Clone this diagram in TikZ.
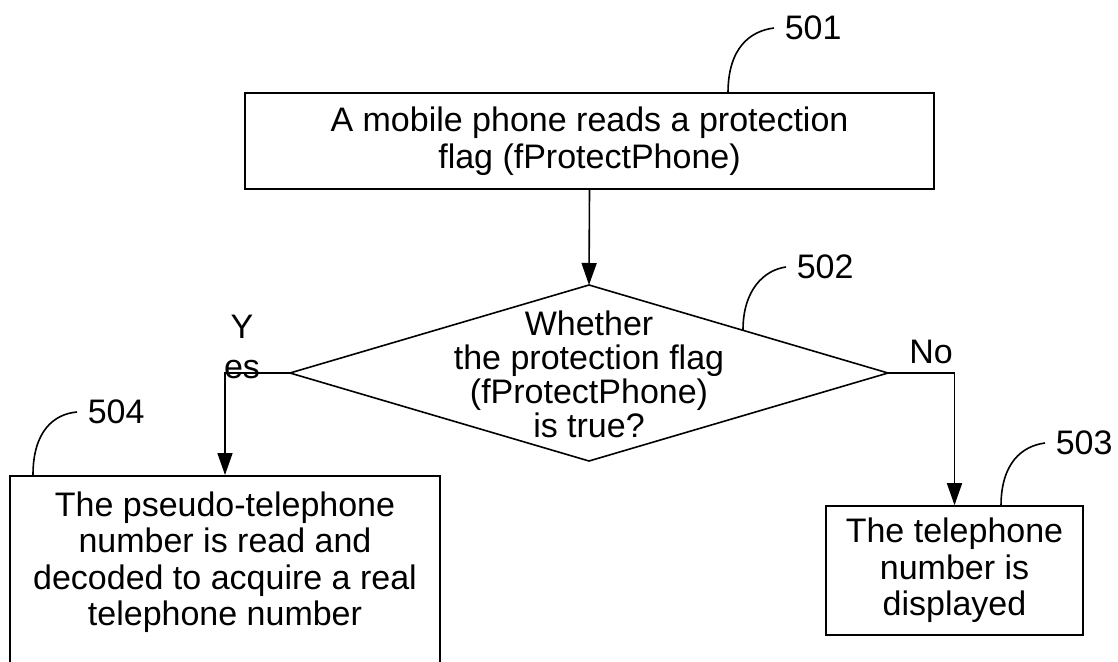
\documentclass[tikz,border=0pt]{standalone}
\usepackage{fontspec}
\setmainfont{Liberation Sans}
\usetikzlibrary{arrows.meta}
\begin{document}
\begin{tikzpicture}[x=1pt,y=-1pt, line width=1.6pt,
  txt/.style={font=\fontsize{34}{36.5}\selectfont, align=center, inner sep=0pt},
  dtxt/.style={font=\fontsize{34}{34}\selectfont, align=center, inner sep=0pt},
  box/.style={draw, line width=1.6pt, inner sep=0pt},
  lbl/.style={font=\fontsize{34}{36}\selectfont, inner sep=0pt},
  num/.style={lbl, inner xsep=10pt, anchor=west},
  arr/.style={-{Triangle[length=22pt,width=15pt]}},
  lead/.style={line width=1.6pt}]
\useasboundingbox (0,0) rectangle (1118,661);
\clip (0,0) rectangle (1118,661);

% process box 501
\node[box, txt, minimum width=689pt, minimum height=96pt] (b501) at (589.5,141)
  {A mobile phone reads a protection\\flag (fProtectPhone)};

% decision 502
\coordinate (dT) at (589,285);
\coordinate (dR) at (888,373);
\coordinate (dB) at (589,461);
\coordinate (dL) at (290,373);
\draw (dT) -- (dR) -- (dB) -- (dL) -- cycle;
\node[dtxt] (dq) at (589,374)
  {Whether\\the protection flag\\(fProtectPhone)\\is true?};

% box 504 (runs past the bottom edge)
\node[box, minimum width=430pt, minimum height=260pt, anchor=north] (b504) at (225,475) {};
\node[txt] (t504) at (225,562)
  {The pseudo-telephone\\number is read and\\decoded to acquire a real\\telephone number};

% box 503
\node[box, txt, minimum width=257pt, minimum height=129pt] (b503) at (954.5,570.5)
  {The telephone\\number is\\displayed};

% branch labels
\node[lbl] (y) at (242,327) {Y};
\node[lbl] (es) at (242,370) {es};
\node[lbl] (no) at (931,352) {No};

% connectors
\draw[arr] (b501.south) -- (dT);
\draw[arr] (dL) -| (b504.north);
\draw[arr] (dR) -| (b503.north);

% reference numerals
\node[num] (l501) at (774,28) {501};
\node[num] (l502) at (786,267) {502};
\node[num] (l503) at (1045,443) {503};
\node[num] (l504) at (77,412) {504};
\coordinate (c501) at (728,93);
\coordinate (c502) at (743,330);
\coordinate (c503) at (1001,506);
\coordinate (c504) at (33,475);
\draw[lead] (c501) .. controls (728,48) and (750,31) .. (l501.west);
\draw[lead] (c502) .. controls (743,290) and (764,270) .. (l502.west);
\draw[lead] (c503) .. controls (1001,463) and (1022,446) .. (l503.west);
\draw[lead] (c504) .. controls (33,431) and (54,414) .. (l504.west);
\end{tikzpicture}
\end{document}
